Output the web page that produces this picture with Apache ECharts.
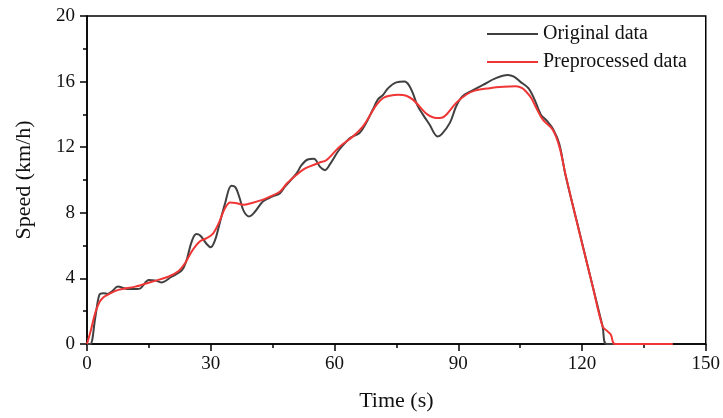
<!DOCTYPE html>
<html>
<head>
<meta charset="utf-8">
<script src="https://cdn.jsdelivr.net/npm/echarts@6/dist/echarts.min.js"></script>
<style>html,body{margin:0;padding:0;background:#fff}#c{width:723px;height:418px}</style>
</head>
<body>
<div id="c"></div>
<script>
var xTicks = [0, 30, 60, 90, 120, 150];
var yTicks = [0, 4, 8, 12, 16, 20];
var originalTime = [0,0.8,2,3,4,5,6,7.5,9,10,12,13,15,16.5,18,20.5,23,24,25.4,26.5,27.5,29,30,31,32,33.5,35,36,37,38,39.3,40.5,42.7,45,46.8,48,50.8,52,53.5,55,56.5,57.7,59,61,62.9,64,66,67.5,69.3,70.5,71.8,73,75,77,78,79,80,81.4,83,85,86,88,89.5,91,93,96,99,102,103.5,105,107,108.5,110,111.5,113,114.5,116,119.4,122.6,125,126,142];
var originalSpeed = [0,0,1.6,3.0,3.1,3.05,3.2,3.5,3.4,3.35,3.35,3.4,3.9,3.88,3.75,4.1,4.5,5.0,6.26,6.7,6.6,6.1,5.9,6.3,7.2,8.6,9.65,9.55,8.9,8.1,7.78,8.0,8.7,9.0,9.2,9.6,10.4,10.9,11.25,11.3,10.8,10.6,11.0,11.8,12.35,12.6,12.85,13.4,14.3,14.9,15.2,15.6,15.95,16.0,15.8,15.3,14.6,14.0,13.4,12.66,12.8,13.5,14.5,15.1,15.4,15.8,16.2,16.4,16.3,16.0,15.6,14.9,14.0,13.6,13.1,12.2,10.3,6.8,3.5,1.07,0,0];
var preTime = [0,1,2,3,4,5,7.6,11.7,15.7,19.7,22.2,23.8,25.4,27.4,29,30.6,32,33.5,34.7,36,37.9,40,42.7,44.5,46.8,48.5,50.8,52.5,54,56.4,58,61.3,64.5,66.9,68.5,70.2,71.8,73.4,75.5,77.4,79,80.6,82.5,84.7,86,87.1,89.5,91.9,94,97.6,101,104,105.5,106.4,107.7,108.9,110.5,112.9,114.5,116.1,119.4,122.6,125,126.2,127,128,142];
var preSpeed = [0,0.9,1.9,2.55,2.85,3.0,3.3,3.5,3.8,4.1,4.45,4.94,5.65,6.26,6.45,6.75,7.4,8.3,8.63,8.6,8.49,8.6,8.8,9.0,9.3,9.8,10.32,10.65,10.83,11.07,11.2,12.05,12.66,13.27,13.9,14.59,15.0,15.14,15.2,15.14,14.9,14.49,14.0,13.78,13.8,13.98,14.7,15.2,15.45,15.6,15.68,15.71,15.6,15.4,15.0,14.4,13.68,13.07,12.05,10.22,6.77,3.51,1.07,0.77,0.57,0,0];
var seriesNames = ['Original data', 'Preprocessed data'];

function pairs(t, v) { return t.map(function (x, i) { return [x, v[i]]; }); }

var font = 'Liberation Serif';
var chart = echarts.init(document.getElementById('c'), null, {renderer: 'canvas'});
var axisLineStyle = {color: '#000', width: 1.5};
chart.setOption({
  animation: false,
  backgroundColor: '#fff',
  grid: {left: 87, right: 16, top: 16, bottom: 74, containLabel: false,
         show: true, borderColor: '#000', borderWidth: 1.5},
  legend: {
    orient: 'vertical', left: 487, top: 24, padding: 0, itemWidth: 51, itemHeight: 2, itemGap: 8,
    icon: 'rect',
    textStyle: {fontFamily: font, fontSize: 20, color: '#111', padding: [0,0,0,0]},
    data: seriesNames
  },
  xAxis: {
    type: 'value', min: 0, max: 150, interval: 30,
    name: 'Time (s)', nameLocation: 'middle', nameGap: 46,
    nameTextStyle: {fontFamily: font, fontSize: 22, color: '#111'},
    axisLine: {show: true, lineStyle: axisLineStyle},
    axisTick: {show: true, inside: false, length: 7, lineStyle: axisLineStyle},
    minorTick: {show: true, splitNumber: 2, length: 4, lineStyle: {color: '#000', width: 1.5}},
    splitLine: {show: false},
    axisLabel: {fontFamily: font, fontSize: 19, color: '#111', margin: 11,
      formatter: function (v) { return xTicks.indexOf(v) >= 0 ? String(v) : ''; }}
  },
  yAxis: {
    type: 'value', min: 0, max: 20, interval: 4,
    name: 'Speed (km/h)', nameLocation: 'middle', nameGap: 52, nameRotate: 90,
    nameTextStyle: {fontFamily: font, fontSize: 22, color: '#111'},
    axisLine: {show: true, lineStyle: axisLineStyle},
    axisTick: {show: true, inside: false, length: 7, lineStyle: axisLineStyle},
    minorTick: {show: true, splitNumber: 2, length: 4, lineStyle: {color: '#000', width: 1.5}},
    splitLine: {show: false},
    axisLabel: {fontFamily: font, fontSize: 19, color: '#111', margin: 12,
      formatter: function (v) { return yTicks.indexOf(v) >= 0 ? String(v) : ''; }}
  },
  series: [
    {name: seriesNames[0], type: 'line', data: pairs(originalTime, originalSpeed),
     symbol: 'none', smooth: 0.35, clip: true,
     lineStyle: {color: '#404040', width: 2}, itemStyle: {color: '#404040'}},
    {name: seriesNames[1], type: 'line', data: pairs(preTime, preSpeed),
     symbol: 'none', smooth: 0.35, clip: true,
     lineStyle: {color: '#f03535', width: 2}, itemStyle: {color: '#f03535'}}
  ]
});
</script>
</body>
</html>
